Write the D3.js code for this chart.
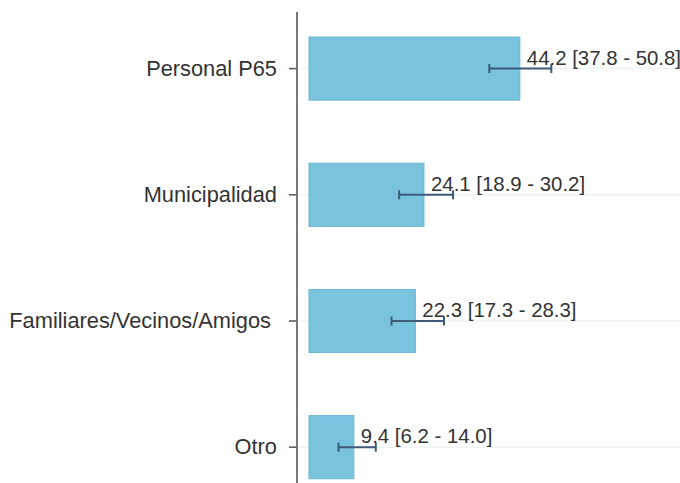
<!DOCTYPE html>
<meta charset="utf-8">
<style>
	body{ margin: 0; background: #fff; }
	.bar{ fill: #7ac3dd; stroke: #68b6d4; stroke-width: 1; }
	.err{ stroke: #3d5a78; stroke-width: 2; fill: none; }
	.grid{ stroke: #eef4f4; stroke-width: 1.5; }
	text{ font-family: "Liberation Sans", Arial, sans-serif; fill: #333; white-space: pre; }
</style>
<body>
<script src="https://d3js.org/d3.v7.min.js"></script>
<script>

	var categories = ["Personal P65", "Municipalidad", "Familiares/Vecinos/Amigos ", "Otro"];
	var values = [44.2, 24.1, 22.3, 9.4];
	var lower = [37.8, 18.9, 17.3, 6.2];
	var upper = [50.8, 30.2, 28.3, 14.0];

	var width = 680, height = 483;

	var data = categories.map(function(c, i){
		return {cat: c, v: values[i], lo: lower[i], hi: upper[i]};
	});

	var x = d3.scaleLinear()
			.domain([0, 50])
			.range([309, 309 + 50 * 4.77]);

	var y = d3.scaleBand()
			.domain(categories)
			.range([5.5, 510.3])
			.paddingInner(0.5)
			.paddingOuter(0.25);

	var svg = d3.select("body").append("svg")
				.attr("width", width)
				.attr("height", height);

	// faint gridlines
	svg.selectAll(".grid")
		.data(data)
		.enter().append("line")
		.attr("class", "grid")
		.attr("x1", 298)
		.attr("x2", width)
		.attr("y1", function(d){ return y(d.cat) + y.bandwidth() / 2; })
		.attr("y2", function(d){ return y(d.cat) + y.bandwidth() / 2; });

	svg.selectAll(".bar")
		.data(data)
		.enter().append("rect")
		.attr("class", "bar")
		.attr("x", x(0))
		.attr("y", function(d){ return y(d.cat); })
		.attr("width", function(d){ return x(d.v) - x(0); })
		.attr("height", y.bandwidth());

	var err = svg.selectAll(".errg")
		.data(data)
		.enter().append("g")
		.attr("class", "err")
		.attr("transform", function(d){ return "translate(0," + (y(d.cat) + y.bandwidth() / 2) + ")"; });

	err.append("line")
		.attr("x1", function(d){ return x(d.lo); })
		.attr("x2", function(d){ return x(d.hi); });
	err.append("line")
		.attr("x1", function(d){ return x(d.lo); })
		.attr("x2", function(d){ return x(d.lo); })
		.attr("y1", -4.5).attr("y2", 4.5);
	err.append("line")
		.attr("x1", function(d){ return x(d.hi); })
		.attr("x2", function(d){ return x(d.hi); })
		.attr("y1", -4.5).attr("y2", 4.5);

	svg.selectAll(".lbl")
		.data(data)
		.enter().append("text")
		.attr("class", "lbl")
		.attr("x", function(d){ return x(d.v) + 7; })
		.attr("y", function(d){ return y(d.cat) + y.bandwidth() / 2 - 4; })
		.attr("font-size", "20.4px")
		.text(function(d){ return d.v.toFixed(1) + " [" + d.lo.toFixed(1) + " - " + d.hi.toFixed(1) + "]"; });

	// y axis
	var axis = svg.append("g")
		.attr("transform", "translate(297,0)")
		.call(d3.axisLeft(y).tickSize(8).tickPadding(12));
	axis.select(".domain").remove();
	axis.selectAll(".tick line").attr("stroke", "#555").attr("stroke-width", 1.5);
	axis.selectAll(".tick text")
		.attr("font-size", "21.8px")
		.attr("font-family", "Liberation Sans, Arial, sans-serif")
		.attr("fill", "#333");

	svg.append("line")
		.attr("x1", 297).attr("x2", 297)
		.attr("y1", 12).attr("y2", height)
		.attr("stroke", "#777")
		.attr("stroke-width", 2);

</script>
</body>
